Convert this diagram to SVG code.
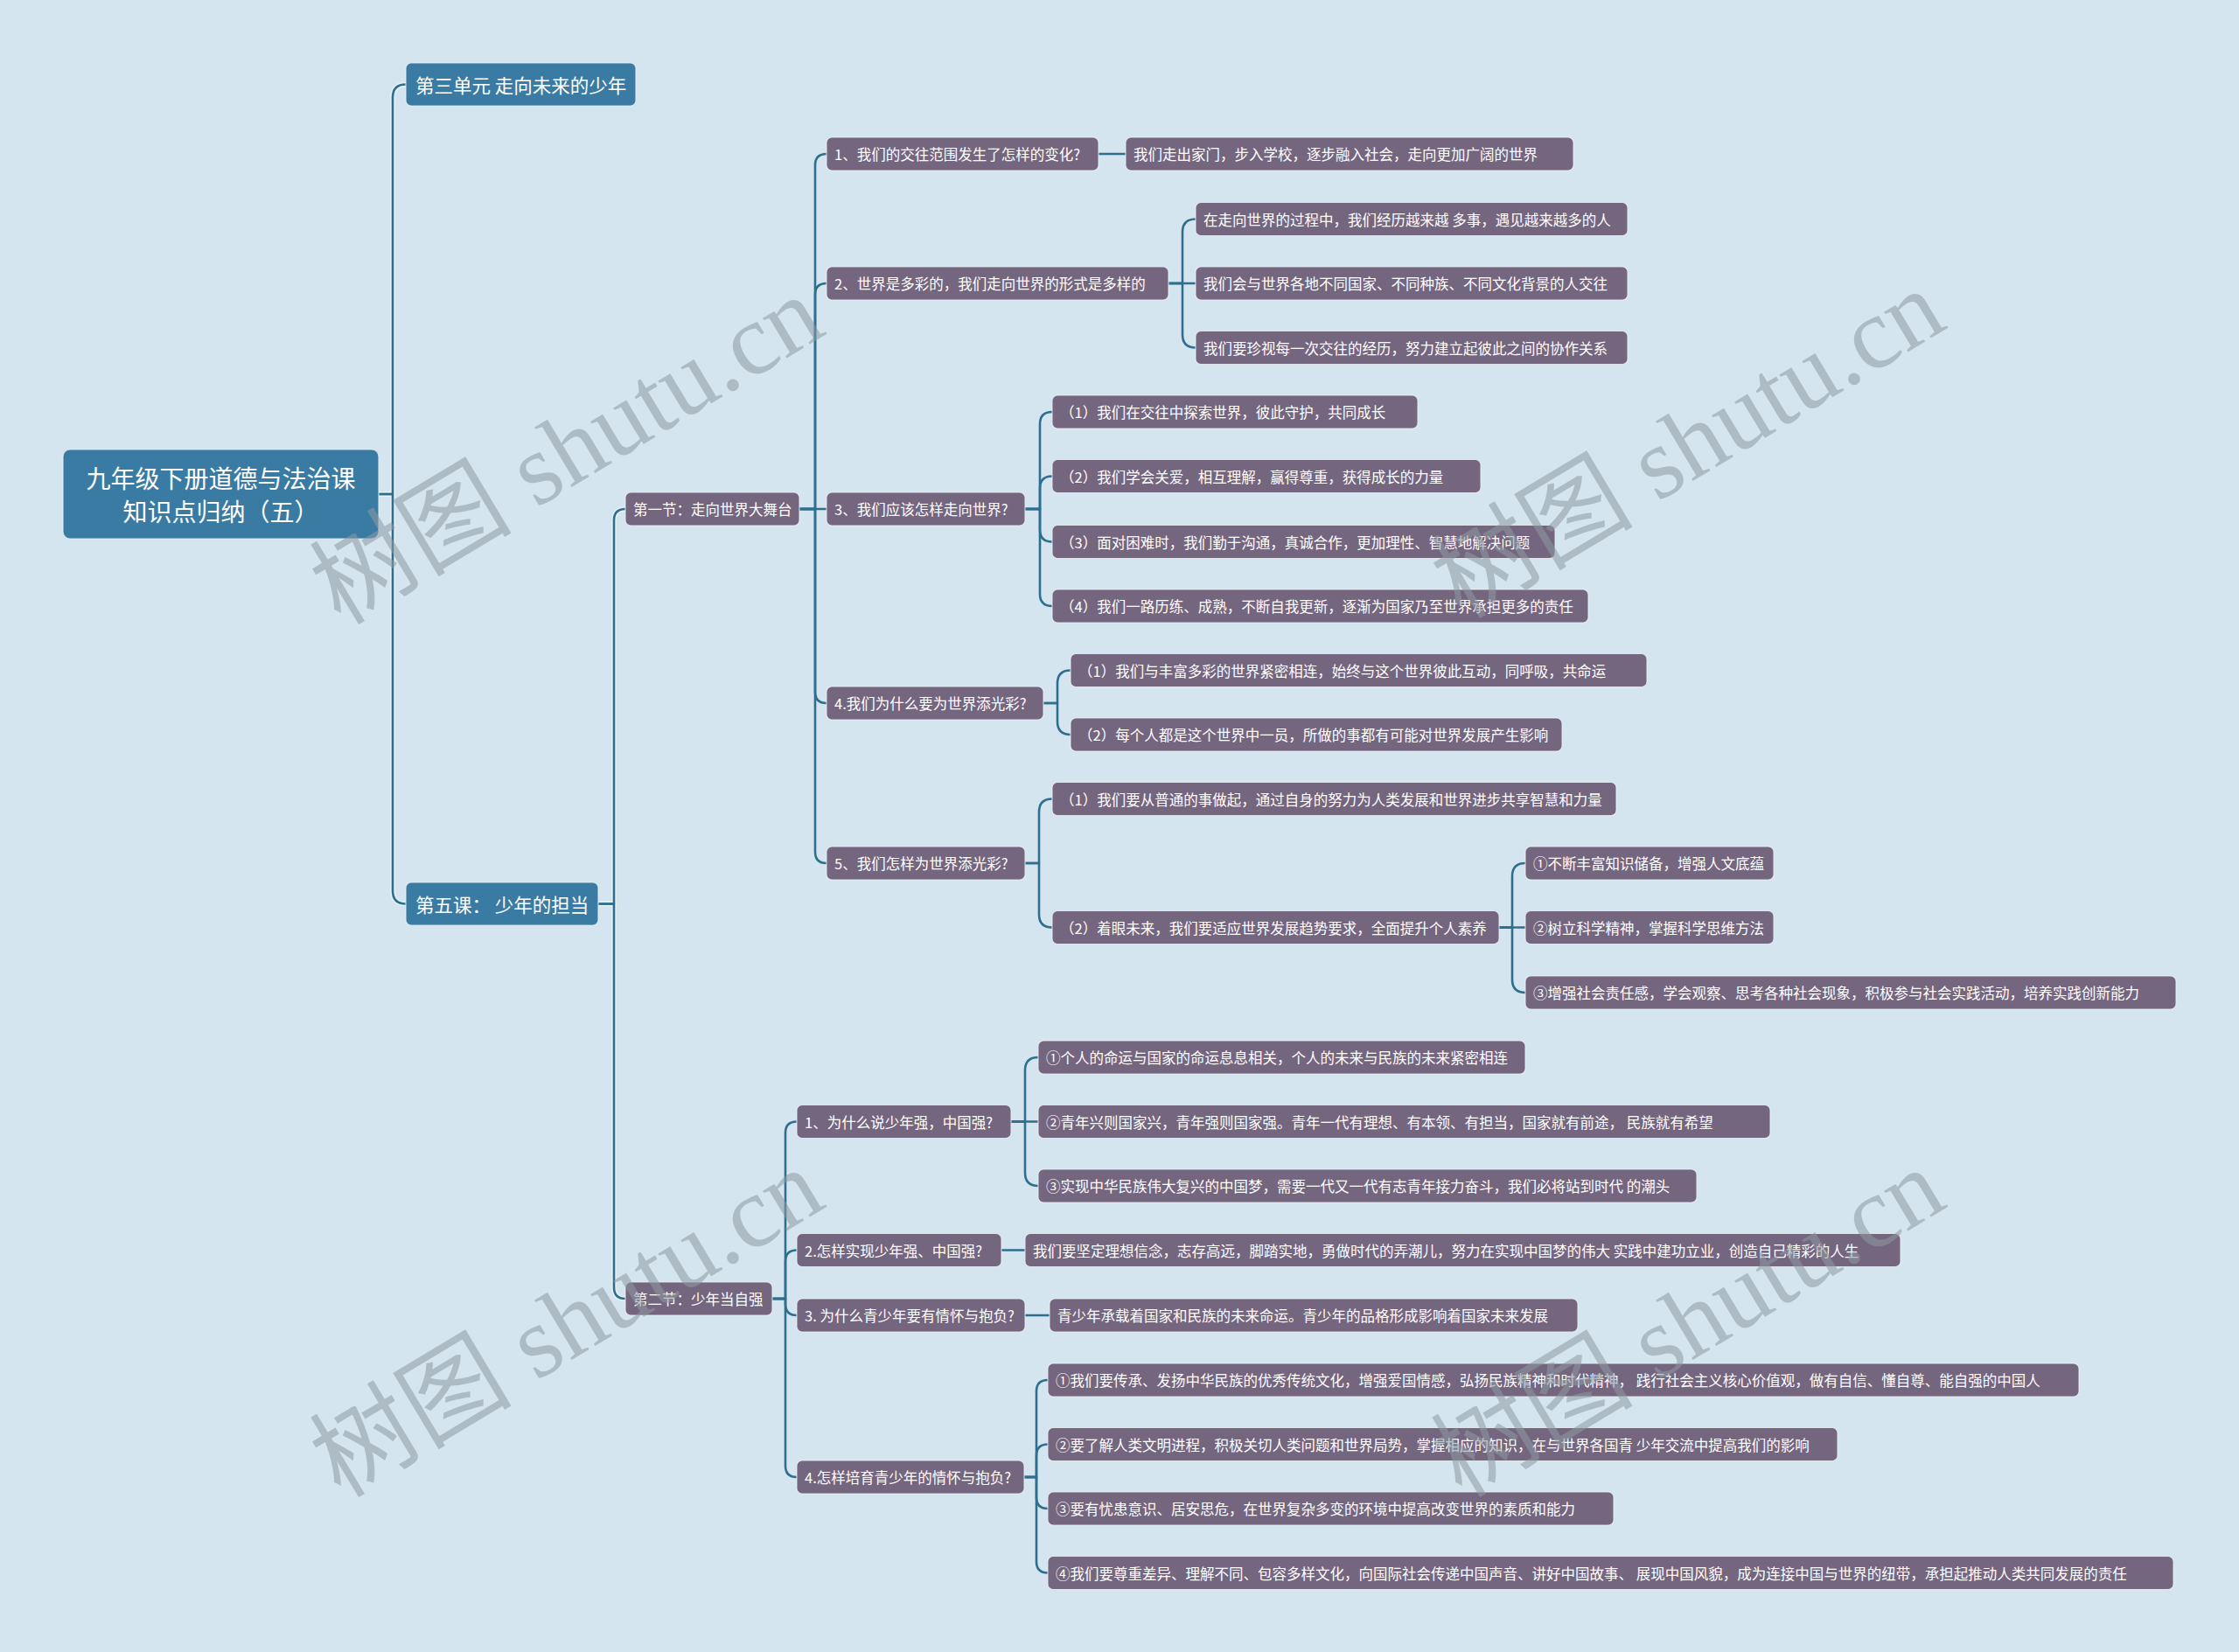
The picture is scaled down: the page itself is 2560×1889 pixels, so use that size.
<svg xmlns="http://www.w3.org/2000/svg" width="2560" height="1889" viewBox="0 0 2560 1889">
<style>
.bg{fill:#d4e5ef}
.c{fill:none;stroke:#2e6e8e;stroke-width:2.6;stroke-linecap:round;stroke-linejoin:round}
.ch{fill:none;stroke:#eef6fa;stroke-width:5.5;stroke-opacity:0.75}
.rb{fill:#3a7ba3;stroke:#e4f0f6;stroke-width:1.2;stroke-opacity:0.8}
.pb{fill:#75667f;stroke:#eef3f7;stroke-width:1.1;stroke-opacity:0.8}
.t{font-family:"Noto Sans CJK SC","Microsoft YaHei",sans-serif;fill:#ffffff;dominant-baseline:central}
.tr{font-size:28px;text-anchor:middle}
.t1{font-size:21.5px}
.tp{font-size:16.5px}
.wm{font-family:"Liberation Serif","Noto Sans CJK SC",serif;font-size:116px;fill:#8e9aa3;opacity:0.55;text-anchor:middle;dominant-baseline:central}
</style>
<rect class="bg" x="0" y="0" width="2560" height="1889"/>
<g id="connectors">
<g id="connector-halo" class="ch">
<path d="M433,565 H449 V111.5 Q449,96.5 464,96.5"/>
<path d="M433,565 H449 V1018.5 Q449,1033.5 464,1033.5"/>
<path d="M684,1033.5 H702 V595 Q702,582 715,582"/>
<path d="M684,1033.5 H702 V1472 Q702,1485 715,1485"/>
</g>
<g class="c">
<path d="M433,565 H449 V111.5 Q449,96.5 464,96.5"/>
<path d="M433,565 H449 V1018.5 Q449,1033.5 464,1033.5"/>
<path d="M684,1033.5 H702 V595 Q702,582 715,582"/>
<path d="M684,1033.5 H702 V1472 Q702,1485 715,1485"/>
<path d="M914,582 H932 V189 Q932,176 945,176"/>
<path d="M914,582 H932 V337 Q932,324 945,324"/>
<path d="M914,582 H945"/>
<path d="M914,582 H932 V791 Q932,804 945,804"/>
<path d="M914,582 H932 V974 Q932,987 945,987"/>
<path d="M1256,176 H1287"/>
<path d="M1336,324 H1352 V265.5 Q1352,250.5 1367,250.5"/>
<path d="M1336,324 H1367"/>
<path d="M1336,324 H1352 V382.5 Q1352,397.5 1367,397.5"/>
<path d="M1172,582 H1189 V485 Q1189,471 1203,471"/>
<path d="M1172,582 H1189 V558.5 Q1189,544.5 1203,544.5"/>
<path d="M1172,582 H1189 V605.5 Q1189,619.5 1203,619.5"/>
<path d="M1172,582 H1189 V679 Q1189,693 1203,693"/>
<path d="M1193,804 H1209 V781.5 Q1209,766.5 1224,766.5"/>
<path d="M1193,804 H1209 V825 Q1209,840 1224,840"/>
<path d="M1172,987 H1188 V928.5 Q1188,913.5 1203,913.5"/>
<path d="M1172,987 H1188 V1045.5 Q1188,1060.5 1203,1060.5"/>
<path d="M1714,1060.5 H1729 V1002 Q1729,987 1744,987"/>
<path d="M1714,1060.5 H1744"/>
<path d="M1714,1060.5 H1729 V1120 Q1729,1135 1744,1135"/>
<path d="M883,1485 H898 V1295.5 Q898,1282.5 911,1282.5"/>
<path d="M883,1485 H898 V1442.5 Q898,1429.5 911,1429.5"/>
<path d="M883,1485 H898 V1491 Q898,1504 911,1504"/>
<path d="M883,1485 H898 V1676 Q898,1689 911,1689"/>
<path d="M1156,1282.5 H1172 V1224 Q1172,1209 1187,1209"/>
<path d="M1156,1282.5 H1187"/>
<path d="M1156,1282.5 H1172 V1341 Q1172,1356 1187,1356"/>
<path d="M1145,1429.5 H1172"/>
<path d="M1172,1504 H1200"/>
<path d="M1171,1689 H1185 V1591 Q1185,1578 1198,1578"/>
<path d="M1171,1689 H1185 V1664.5 Q1185,1651.5 1198,1651.5"/>
<path d="M1171,1689 H1185 V1712 Q1185,1725 1198,1725"/>
<path d="M1171,1689 H1185 V1785.5 Q1185,1798.5 1198,1798.5"/>
</g>
</g>
<g id="root"><rect class="rb" x="72" y="514" width="361" height="102" rx="8"/><text class="t tr" x="252.5" y="546">九年级下册道德与法治课</text><text class="t tr" x="252.5" y="584">知识点归纳（五）</text></g>
<g id="unit3"><rect class="rb" x="464" y="72" width="263" height="49" rx="6"/><text class="t t1" x="475" y="96.5">第三单元 走向未来的少年</text></g>
<g id="lesson5"><rect class="rb" x="464" y="1009" width="220" height="49" rx="6"/><text class="t t1" x="475" y="1033.5">第五课： 少年的担当</text></g>
<g id="s1"><rect class="pb" x="715" y="563" width="199" height="38" rx="6"/><text class="t tp" x="724" y="582">第一节：走向世界大舞台</text></g>
<g id="s2"><rect class="pb" x="715" y="1466" width="168" height="38" rx="6"/><text class="t tp" x="724" y="1485">第二节：少年当自强</text></g>
<g id="a1"><rect class="pb" x="945" y="157" width="311" height="38" rx="6"/><text class="t tp" x="954" y="176">1、我们的交往范围发生了怎样的变化?</text></g>
<g id="a2"><rect class="pb" x="945" y="305" width="391" height="38" rx="6"/><text class="t tp" x="954" y="324">2、世界是多彩的，我们走向世界的形式是多样的</text></g>
<g id="a3"><rect class="pb" x="945" y="563" width="227" height="38" rx="6"/><text class="t tp" x="954" y="582">3、我们应该怎样走向世界?</text></g>
<g id="a4"><rect class="pb" x="945" y="785" width="248" height="38" rx="6"/><text class="t tp" x="954" y="804">4.我们为什么要为世界添光彩?</text></g>
<g id="a5"><rect class="pb" x="945" y="968" width="227" height="38" rx="6"/><text class="t tp" x="954" y="987">5、我们怎样为世界添光彩?</text></g>
<g id="a1c"><rect class="pb" x="1287" y="157" width="512" height="38" rx="6"/><text class="t tp" x="1296" y="176">我们走出家门，步入学校，逐步融入社会，走向更加广阔的世界</text></g>
<g id="a2c1"><rect class="pb" x="1367" y="231.5" width="494" height="38" rx="6"/><text class="t tp" x="1376" y="250.5">在走向世界的过程中，我们经历越来越 多事，遇见越来越多的人</text></g>
<g id="a2c2"><rect class="pb" x="1367" y="305" width="494" height="38" rx="6"/><text class="t tp" x="1376" y="324">我们会与世界各地不同国家、不同种族、不同文化背景的人交往</text></g>
<g id="a2c3"><rect class="pb" x="1367" y="378.5" width="494" height="38" rx="6"/><text class="t tp" x="1376" y="397.5">我们要珍视每一次交往的经历，努力建立起彼此之间的协作关系</text></g>
<g id="a3c1"><rect class="pb" x="1203" y="452" width="418" height="38" rx="6"/><text class="t tp" x="1212" y="471">（1）我们在交往中探索世界，彼此守护，共同成长</text></g>
<g id="a3c2"><rect class="pb" x="1203" y="525.5" width="490" height="38" rx="6"/><text class="t tp" x="1212" y="544.5">（2）我们学会关爱，相互理解，赢得尊重，获得成长的力量</text></g>
<g id="a3c3"><rect class="pb" x="1203" y="600.5" width="575" height="38" rx="6"/><text class="t tp" x="1212" y="619.5">（3）面对困难时，我们勤于沟通，真诚合作，更加理性、智慧地解决问题</text></g>
<g id="a3c4"><rect class="pb" x="1203" y="674" width="613" height="38" rx="6"/><text class="t tp" x="1212" y="693">（4）我们一路历练、成熟，不断自我更新，逐渐为国家乃至世界承担更多的责任</text></g>
<g id="a4c1"><rect class="pb" x="1224" y="747.5" width="659" height="38" rx="6"/><text class="t tp" x="1233" y="766.5">（1）我们与丰富多彩的世界紧密相连，始终与这个世界彼此互动，同呼吸，共命运</text></g>
<g id="a4c2"><rect class="pb" x="1224" y="821" width="562" height="38" rx="6"/><text class="t tp" x="1233" y="840">（2）每个人都是这个世界中一员，所做的事都有可能对世界发展产生影响</text></g>
<g id="a5c1"><rect class="pb" x="1203" y="894.5" width="645" height="38" rx="6"/><text class="t tp" x="1212" y="913.5">（1）我们要从普通的事做起，通过自身的努力为人类发展和世界进步共享智慧和力量</text></g>
<g id="a5c2"><rect class="pb" x="1203" y="1041.5" width="511" height="38" rx="6"/><text class="t tp" x="1212" y="1060.5">（2）着眼未来，我们要适应世界发展趋势要求，全面提升个人素养</text></g>
<g id="g1"><rect class="pb" x="1744" y="968" width="284" height="38" rx="6"/><text class="t tp" x="1753" y="987">①不断丰富知识储备，增强人文底蕴</text></g>
<g id="g2"><rect class="pb" x="1744" y="1041.5" width="284" height="38" rx="6"/><text class="t tp" x="1753" y="1060.5">②树立科学精神，掌握科学思维方法</text></g>
<g id="g3"><rect class="pb" x="1744" y="1116" width="744" height="38" rx="6"/><text class="t tp" x="1753" y="1135">③增强社会责任感，学会观察、思考各种社会现象，积极参与社会实践活动，培养实践创新能力</text></g>
<g id="b1"><rect class="pb" x="911" y="1263.5" width="245" height="38" rx="6"/><text class="t tp" x="920" y="1282.5">1、为什么说少年强，中国强?</text></g>
<g id="b2"><rect class="pb" x="911" y="1410.5" width="234" height="38" rx="6"/><text class="t tp" x="920" y="1429.5">2.怎样实现少年强、中国强?</text></g>
<g id="b3"><rect class="pb" x="911" y="1485" width="261" height="38" rx="6"/><text class="t tp" x="920" y="1504">3. 为什么青少年要有情怀与抱负?</text></g>
<g id="b4"><rect class="pb" x="911" y="1670" width="260" height="38" rx="6"/><text class="t tp" x="920" y="1689">4.怎样培育青少年的情怀与抱负?</text></g>
<g id="c1"><rect class="pb" x="1187" y="1190" width="557" height="38" rx="6"/><text class="t tp" x="1196" y="1209">①个人的命运与国家的命运息息相关，个人的未来与民族的未来紧密相连</text></g>
<g id="c2"><rect class="pb" x="1187" y="1263.5" width="837" height="38" rx="6"/><text class="t tp" x="1196" y="1282.5">②青年兴则国家兴，青年强则国家强。青年一代有理想、有本领、有担当，国家就有前途， 民族就有希望</text></g>
<g id="c3"><rect class="pb" x="1187" y="1337" width="753" height="38" rx="6"/><text class="t tp" x="1196" y="1356">③实现中华民族伟大复兴的中国梦，需要一代又一代有志青年接力奋斗，我们必将站到时代 的潮头</text></g>
<g id="d"><rect class="pb" x="1172" y="1410.5" width="1001" height="38" rx="6"/><text class="t tp" x="1181" y="1429.5">我们要坚定理想信念，志存高远，脚踏实地，勇做时代的弄潮儿，努力在实现中国梦的伟大 实践中建功立业，创造自己精彩的人生</text></g>
<g id="e"><rect class="pb" x="1200" y="1485" width="604" height="38" rx="6"/><text class="t tp" x="1209" y="1504">青少年承载着国家和民族的未来命运。青少年的品格形成影响着国家未来发展</text></g>
<g id="f1"><rect class="pb" x="1198" y="1559" width="1179" height="38" rx="6"/><text class="t tp" x="1207" y="1578">①我们要传承、发扬中华民族的优秀传统文化，增强爱国情感，弘扬民族精神和时代精神， 践行社会主义核心价值观，做有自信、懂自尊、能自强的中国人</text></g>
<g id="f2"><rect class="pb" x="1198" y="1632.5" width="903" height="38" rx="6"/><text class="t tp" x="1207" y="1651.5">②要了解人类文明进程，积极关切人类问题和世界局势，掌握相应的知识，在与世界各国青 少年交流中提高我们的影响</text></g>
<g id="f3"><rect class="pb" x="1198" y="1706" width="647" height="38" rx="6"/><text class="t tp" x="1207" y="1725">③要有忧患意识、居安思危，在世界复杂多变的环境中提高改变世界的素质和能力</text></g>
<g id="f4"><rect class="pb" x="1198" y="1779.5" width="1287" height="38" rx="6"/><text class="t tp" x="1207" y="1798.5">④我们要尊重差异、理解不同、包容多样文化，向国际社会传递中国声音、讲好中国故事、 展现中国风貌，成为连接中国与世界的纽带，承担起推动人类共同发展的责任</text></g>
<g id="watermarks">
<text class="wm" transform="translate(648,515) rotate(-31)">树图 shutu.cn</text>
<text class="wm" transform="translate(1930,508) rotate(-31)">树图 shutu.cn</text>
<text class="wm" transform="translate(648,1513) rotate(-31)">树图 shutu.cn</text>
<text class="wm" transform="translate(1930,1513) rotate(-31)">树图 shutu.cn</text>
</g>
</svg>
